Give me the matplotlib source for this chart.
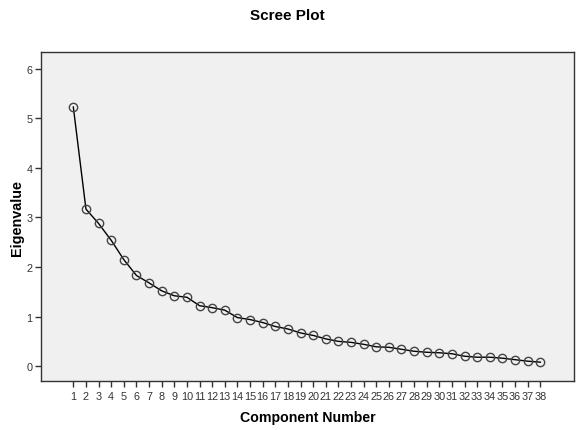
import matplotlib
matplotlib.use("Agg")
import matplotlib.pyplot as plt

# eigenvalues
components = list(range(1, 39))
eigenvalues = [5.23, 3.17, 2.88, 2.54, 2.15, 1.83, 1.68, 1.52, 1.42, 1.39,
               1.22, 1.18, 1.13, 0.98, 0.94, 0.88, 0.80, 0.75, 0.67, 0.62,
               0.55, 0.50, 0.48, 0.44, 0.39, 0.38, 0.34, 0.30, 0.28, 0.27,
               0.25, 0.20, 0.18, 0.18, 0.16, 0.13, 0.10, 0.08]
y_ticks = [0, 1, 2, 3, 4, 5, 6]

plt.rcParams['font.family'] = ['Arial', 'Liberation Sans', 'DejaVu Sans']

fig = plt.figure(figsize=(5.8, 4.31), dpi=100)
ax = fig.add_axes([0.0707, 0.1137, 0.919, 0.7633])
ax.set_facecolor('#f0f0f0')

ax.plot(components, eigenvalues, color='black', linewidth=1.0,
        marker='o', markersize=6, markerfacecolor='none',
        markeredgecolor='#444444', markeredgewidth=1.0)

ax.set_xlim(-1.56, 40.67)
ax.set_ylim(-0.30, 6.34)
ax.set_xticks(components)
ax.set_xticklabels([str(c) for c in components])
ax.set_yticks(y_ticks)

for s in ax.spines.values():
    s.set_color('#333333')
    s.set_linewidth(1.0)

ax.tick_params(axis='both', direction='out', length=4, width=1,
               colors='#333333', labelsize=7.8, pad=2)
ax.tick_params(axis='x', pad=3)

fig.text(0.495, 0.963, 'Scree Plot', ha='center', va='center',
         fontsize=11, fontweight='bold')
fig.text(0.53, 1 - 418 / 431, 'Component Number', ha='center', va='center',
         fontsize=10.2, fontweight='bold')
fig.text(17 / 580, 0.495, 'Eigenvalue', ha='center', va='center',
         rotation=90, fontsize=10.4, fontweight='bold')

fig.savefig('out.png', dpi=100)
